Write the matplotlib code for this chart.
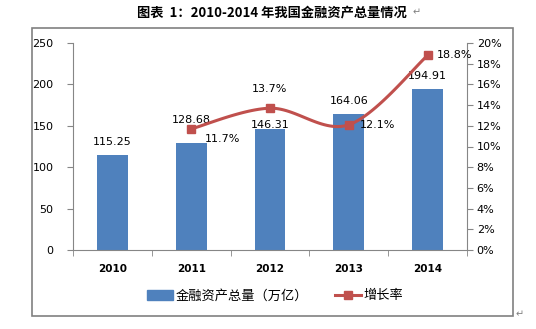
import numpy as np
import matplotlib.pyplot as plt
from matplotlib.patches import Rectangle
from matplotlib.lines import Line2D

plt.rcParams['font.family'] = ['DejaVu Sans', 'Noto Sans CJK SC']

# 数据
years = ['2010', '2011', '2012', '2013', '2014']
assets = [115.25, 128.68, 146.31, 164.06, 194.91]
growth_years = [1, 2, 3, 4]
growth = [11.7, 13.7, 12.1, 18.8]
growth_labels = ['11.7%', '13.7%', '12.1%', '18.8%']

bar_color = '#4F81BD'
line_color = '#C0504D'
grid_gray = '#868686'


def smooth(xs, ys, n=30):
    # Excel 风格平滑线（三次贝塞尔）
    p = np.column_stack([xs, ys]).astype(float)
    p = np.vstack([p[0], p, p[-1]])
    out = []
    for i in range(1, len(p) - 2):
        p0, p1, p2, p3 = p[i - 1], p[i], p[i + 1], p[i + 2]
        c1 = p1 + (p2 - p0) / 6
        c2 = p2 - (p3 - p1) / 6
        t = np.linspace(0, 1, n)[:, None]
        seg = ((1 - t) ** 3) * p1 + 3 * ((1 - t) ** 2) * t * c1 + 3 * (1 - t) * t ** 2 * c2 + t ** 3 * p2
        out.append(seg)
    out = np.vstack(out)
    return out[:, 0], out[:, 1]


fig = plt.figure(figsize=(5.36, 3.29), dpi=100)
ax = fig.add_axes([73 / 536, 1 - 250 / 329, 394 / 536, 207 / 329])
ax2 = ax.twinx()

x = np.arange(len(years))
ax.bar(x, assets, width=0.39, color=bar_color, zorder=2)
ax.set_xlim(-0.5, 4.5)
ax.set_ylim(0, 250)
ax.set_yticks(range(0, 251, 50))
ax.set_xticks(x)
ax.set_xticklabels(years, fontsize=7.5, fontweight='bold')
ax.set_xticks(np.arange(-0.5, 5, 1), minor=True)
ax.tick_params(axis='x', which='major', length=0, pad=10)
ax.tick_params(axis='x', which='minor', length=4, color=grid_gray)
ax.tick_params(axis='y', length=4, color=grid_gray, labelsize=8, pad=10)

for s in ['top', 'right']:
    ax.spines[s].set_visible(False)
ax.spines['left'].set_color(grid_gray)
ax.spines['bottom'].set_color(grid_gray)

# 柱状标签
bar_label_off = [9, 17, 3, 9.5, 9]
for xi, v, off in zip(x, assets, bar_label_off):
    ax.annotate(f'{v:.2f}', (xi, v), xytext=(0, off), textcoords='offset points',
                ha='center', va='center', fontsize=8)

# 增长率折线
sx, sy = smooth(growth_years, growth)
ax2.plot(sx, sy, color=line_color, lw=2.2, zorder=3)
ax2.plot(growth_years, growth, 's', color=line_color, ms=6, zorder=4)
ax2.set_ylim(0, 20)
ax2.set_yticks(range(0, 21, 2))
ax2.set_yticklabels([f'{v}%' for v in range(0, 21, 2)])
ax2.tick_params(axis='y', length=4, color=grid_gray, labelsize=8, pad=3)
for s in ['top', 'left', 'bottom']:
    ax2.spines[s].set_visible(False)
ax2.spines['right'].set_color(grid_gray)

label_offsets = [(10, -7), (0, 14), (8, 0), (7, 0)]
for xi, v, lab, (dx, dy) in zip(growth_years, growth, growth_labels, label_offsets):
    ax2.annotate(lab, (xi, v), xytext=(dx, dy), textcoords='offset points',
                 ha='left' if dx > 0 else 'center', va='center', fontsize=8)

# 图例
handles = [Rectangle((0, 0), 1, 1, color=bar_color),
           Line2D([0], [0], color=line_color, lw=2.2, marker='s', ms=6)]
fig.legend(handles, ['金融资产总量（万亿）', '增长率'], loc='center',
           bbox_to_anchor=(275 / 536, 1 - 296 / 329), ncol=2, frameon=False,
           prop={'family': ['Noto Sans CJK SC'], 'size': 9.5},
           handlelength=2.0, columnspacing=2.0, handletextpad=0.2)

# 外框
fig.patches.append(Rectangle((32 / 536, 1 - 316 / 329), 481 / 536, 288 / 329,
                             transform=fig.transFigure, fill=False,
                             edgecolor='#808080', lw=1.2))

# 标题
fig.text(272 / 536, 1 - 12 / 329, '图表  1：2010-2014 年我国金融资产总量情况',
         ha='center', va='center', fontsize=9.5, fontweight='bold',
         family=['Noto Sans CJK SC', 'DejaVu Sans'])
fig.text(413 / 536, 1 - 12 / 329, '↵', ha='left', va='center', fontsize=7, color='#808080')
fig.text(516 / 536, 1 - 314 / 329, '↵', ha='left', va='center', fontsize=7, color='#808080')

fig.savefig('out.png', dpi=100)
